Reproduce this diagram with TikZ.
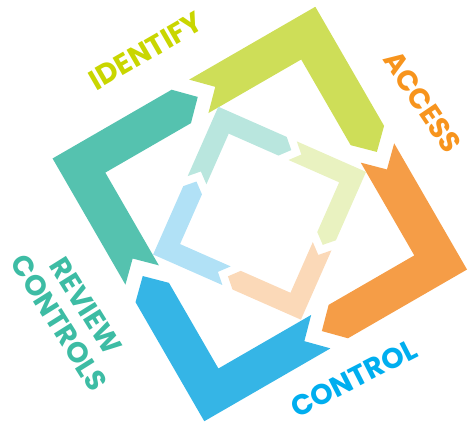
\documentclass[tikz,border=0pt]{standalone}
\usepackage{fontspec}
\newfontfamily\labfont{Poppins}
\definecolor{limeA}{HTML}{CEDE58}
\definecolor{orangeA}{HTML}{F59D47}
\definecolor{blueA}{HTML}{35B5E6}
\definecolor{tealA}{HTML}{55C2AF}
\definecolor{limeB}{HTML}{E9F2C0}
\definecolor{peachB}{HTML}{FBD9B8}
\definecolor{blueB}{HTML}{B1E1F6}
\definecolor{tealB}{HTML}{B9E6DE}
\definecolor{idText}{HTML}{C9D600}
\definecolor{acText}{HTML}{F7941D}
\definecolor{ctText}{HTML}{00AEEF}
\definecolor{rvText}{HTML}{3DBCA4}
\newcommand\drawarm[2]{%
  \fill[#1, rotate=#2] (\aT,\aR) -- (\aR,\aR) -- (\aR,\aH) -- (\aR-\aW/2,\aH-\aD) -- (\aR-\aW,\aH)
    -- (\aR-\aW,\aR-\aW) -- (\aT,\aR-\aW) -- (\aT+\aD,\aR-\aW/2) -- cycle;}
\tikzset{lab/.style={font=\labfont\bfseries\fontsize{28.5}{32}\selectfont, inner sep=0pt}}
\begin{document}
\begin{tikzpicture}[x=1pt,y=1pt]
\useasboundingbox (0,0) rectangle (468,426);
% outer frame
\begin{scope}[shift={(259.8,212)}, rotate=30]
  \def\aR{151.7}\def\aW{38.6}\def\aH{14.2}\def\aT{6}\def\aD{19}
  \drawarm{limeA}{0}
  \drawarm{orangeA}{-90}
  \drawarm{blueA}{-180}
  \drawarm{tealA}{90}
\end{scope}
% inner frame
\begin{scope}[shift={(259.6,212.8)}, rotate=-23.8]
  \def\aR{80.75}\def\aW{20.4}\def\aH{6}\def\aT{5}\def\aD{9.5}
  \drawarm{limeB}{0}
  \drawarm{peachB}{-90}
  \drawarm{blueB}{-180}
  \drawarm{tealB}{90}
\end{scope}
\node[lab, text=idText, rotate=30] (identify) at (146,375) {IDENTIFY};
\node[lab, text=acText, rotate=-56] (access) at (422.5,324) {ACCESS};
\node[lab, text=ctText, rotate=27] (control) at (354,48) {CONTROL};
\node[lab, text=rvText, rotate=-58] (review) at (86,120) {REVIEW};
\node[lab, text=rvText, rotate=-58] (controls) at (59,103) {CONTROLS};
\end{tikzpicture}
\end{document}
